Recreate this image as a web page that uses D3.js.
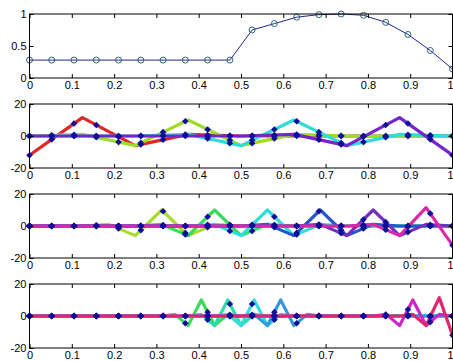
<!DOCTYPE html>
<html>
<head>
<meta charset="utf-8">
<script src="https://cdn.jsdelivr.net/npm/d3@7"></script>
<style>
  body { margin: 0; background: #fff; }
  svg { display: block; }
  text { font-family: "Liberation Sans", Arial, sans-serif; font-size: 11px; fill: #000; }
</style>
</head>
<body>
<div id="chart"></div>
<script>
// sample grid (20 points) used for the circles / dots
const xs = [0, 0.0526, 0.1053, 0.1579, 0.2105, 0.2632, 0.3158, 0.3684, 0.4211, 0.4737,
            0.5263, 0.5789, 0.6316, 0.6842, 0.7368, 0.7895, 0.8421, 0.8947, 0.9474, 1];

const xTicks = [0, 0.1, 0.2, 0.3, 0.4, 0.5, 0.6, 0.7, 0.8, 0.9, 1];
const xTickLabels = ["0", "0.1", "0.2", "0.3", "0.4", "0.5", "0.6", "0.7", "0.8", "0.9", "1"];
const yTicksTop = [0, 0.5, 1];
const yTickLabelsTop = ["0", "0.5", "1"];
const yTicksLow = [-20, 0, 20];
const yTickLabelsLow = ["-20", "0", "20"];

// top panel: the function itself
const topVals = [0.28, 0.28, 0.28, 0.28, 0.28, 0.28, 0.28, 0.28, 0.28, 0.28,
                 0.75, 0.85, 0.95, 0.99, 1.0, 0.98, 0.87, 0.68, 0.43, 0.14];

// panel 2: wavelets, lines as [x, y] pairs
const lines2 = [
  [[0, -12], [0.125, 11.5], [0.25, -6], [0.375, 1], [0.5, 0], [1, 0]],
  [[0, 0], [0.125, 1], [0.25, -6], [0.375, 10], [0.5, -6], [0.625, 1], [0.75, 0], [1, 0]],
  [[0, 0], [0.25, 0], [0.375, 1], [0.5, -6], [0.625, 10], [0.75, -6], [0.875, 1], [1, 0]],
  [[0, 0], [0.5, 0], [0.625, 1], [0.75, -6], [0.875, 11.5], [1, -12]]
];
const colors2 = ["#e02626", "#9edc2a", "#2edcdc", "#7426c8"];
const dots2 = [
  [-12, -2.1, 7.8, 6.9, -0.5, -5.3, -2.3, 0.6, 0.6, 0.2, 0, 0, 0, 0, 0, 0, 0, 0, 0, 0],
  [0, 0.4, 0.8, -0.8, -3.8, -4.3, 2.4, 9.2, 4.1, -2.6, -4.5, -1.6, 0.9, 0.5, 0.1, 0, 0, 0, 0, 0],
  [0, 0, 0, 0, 0, 0.1, 0.5, 0.9, -1.6, -4.5, -2.6, 4.1, 9.2, 2.4, -4.3, -3.8, -0.8, 0.8, 0.4, 0],
  [0, 0, 0, 0, 0, 0, 0, 0, 0, 0, 0.2, 0.6, 0.6, -2.3, -5.3, -0.5, 6.9, 7.8, -2.1, -12]
];

// panel 3
const lines3 = [
  [[0, 0], [0.125, 0], [0.1875, 1], [0.25, -6], [0.3125, 10], [0.375, -6], [0.4375, 1], [0.5, 0], [1, 0]],
  [[0, 0], [0.25, 0], [0.3125, 1], [0.375, -6], [0.4375, 10], [0.5, -6], [0.5625, 1], [0.625, 0], [1, 0]],
  [[0, 0], [0.375, 0], [0.4375, 1], [0.5, -6], [0.5625, 10], [0.625, -6], [0.6875, 1], [0.75, 0], [1, 0]],
  [[0, 0], [0.5, 0], [0.5625, 1], [0.625, -6], [0.6875, 10], [0.75, -6], [0.8125, 1], [0.875, 0], [1, 0]],
  [[0, 0], [0.625, 0], [0.6875, 1], [0.75, -6], [0.8125, 10], [0.875, -6], [0.9375, 1], [1, 0]],
  [[0, 0], [0.75, 0], [0.8125, 1], [0.875, -6], [0.9375, 11.5], [1, -12]]
];
const colors3 = ["#a6dc2c", "#34dc58", "#30dcdc", "#2456cc", "#7430bc", "#dc26a8"];
const dots3 = [
  [0, 0, 0, 0.5, -1.6, -2.6, 9.2, -4.3, -0.8, 0.4, 0, 0, 0, 0, 0, 0, 0, 0, 0, 0],
  [0, 0, 0, 0, 0, 0.2, 0.6, -5.3, 5.8, 0.7, -3.1, 0.7, 0, 0, 0, 0, 0, 0, 0, 0],
  [0, 0, 0, 0, 0, 0, 0, 0, 0.7, -3.1, 0.7, 5.8, -5.3, 0.6, 0.2, 0, 0, 0, 0, 0],
  [0, 0, 0, 0, 0, 0, 0, 0, 0, 0, 0.4, -0.8, -4.3, 9.2, -2.6, -1.6, 0.5, 0, 0, 0],
  [0, 0, 0, 0, 0, 0, 0, 0, 0, 0, 0, 0, 0.1, 0.9, -4.5, 4.1, 2.4, -3.8, 0.8, 0],
  [0, 0, 0, 0, 0, 0, 0, 0, 0, 0, 0, 0, 0, 0, 0, 0.6, -2.3, -0.5, 7.8, -12]
];

// panel 4
const lines4 = [
  [[0, 0], [0.3125, 0], [0.34375, 1], [0.375, -6], [0.40625, 10], [0.4375, -6], [0.46875, 1], [0.5, 0], [1, 0]],
  [[0, 0], [0.375, 0], [0.40625, 1], [0.4375, -6], [0.46875, 10], [0.5, -6], [0.53125, 1], [0.5625, 0], [1, 0]],
  [[0, 0], [0.4375, 0], [0.46875, 1], [0.5, -6], [0.53125, 10], [0.5625, -6], [0.59375, 1], [0.625, 0], [1, 0]],
  [[0, 0], [0.5, 0], [0.53125, 1], [0.5625, -6], [0.59375, 10], [0.625, -6], [0.65625, 1], [0.6875, 0], [1, 0]],
  [[0, 0], [0.8125, 0], [0.84375, 1], [0.875, -6], [0.90625, 10], [0.9375, -6], [0.96875, 1], [1, 0]],
  [[0, 0], [0.875, 0], [0.90625, 1], [0.9375, -6], [0.96875, 11.5], [1, -12]]
];
const colors4 = ["#36dc5a", "#2cdcac", "#36dcdc", "#3498dc", "#cc26c4", "#e0266c"];
const dots4 = [
  [0, 0, 0, 0, 0, 0, 0.1, -4.5, 2.4, 0.8, 0, 0, 0, 0, 0, 0, 0, 0, 0, 0],
  [0, 0, 0, 0, 0, 0, 0, 0, -2.3, 7.5, -0.1, 0, 0, 0, 0, 0, 0, 0, 0, 0],
  [0, 0, 0, 0, 0, 0, 0, 0, 0, -0.1, 7.5, -2.3, 0, 0, 0, 0, 0, 0, 0, 0],
  [0, 0, 0, 0, 0, 0, 0, 0, 0, 0, 0.8, 2.4, -4.5, 0.1, 0, 0, 0, 0, 0, 0],
  [0, 0, 0, 0, 0, 0, 0, 0, 0, 0, 0, 0, 0, 0, 0, 0, 0.9, 4.1, -3.8, 0],
  [0, 0, 0, 0, 0, 0, 0, 0, 0, 0, 0, 0, 0, 0, 0, 0, 0, 0.6, -0.5, -12]
];

const width = 453, height = 361;
const left = 29.5, right = 452.5;
const panelTops = [14, 104, 194, 284];
const panelH = 64;

const svg = d3.select("#chart").append("svg")
  .attr("width", width)
  .attr("height", height);

const x = d3.scaleLinear().domain([0, 1]).range([left, right]);

function drawFrame(g, y, yTicks, yLabels) {
  const top = y.range()[1], bottom = y.range()[0];
  const bot = g.append("g").attr("transform", "translate(0," + bottom + ")")
    .call(d3.axisBottom(x).tickValues(xTicks).tickSize(-4).tickPadding(3)
      .tickFormat((d, i) => xTickLabels[i]));
  const tp = g.append("g").attr("transform", "translate(0," + top + ")")
    .call(d3.axisTop(x).tickValues(xTicks).tickSize(-4).tickFormat(""));
  const lf = g.append("g").attr("transform", "translate(" + left + ",0)")
    .call(d3.axisLeft(y).tickValues(yTicks).tickSize(-4).tickPadding(3)
      .tickFormat((d, i) => yLabels[i]));
  const rt = g.append("g").attr("transform", "translate(" + right + ",0)")
    .call(d3.axisRight(y).tickValues(yTicks).tickSize(-4).tickFormat(""));
  [bot, tp, lf, rt].forEach(a => {
    a.select(".domain").remove();
    a.selectAll("line").attr("stroke", "#000");
    a.selectAll("text").attr("font-family", null).attr("font-size", null).attr("fill", "#000");
  });
  // last x label sits on the window edge: keep it inside
  bot.selectAll(".tick:last-of-type text").attr("text-anchor", "end").attr("x", 0.5);
  g.append("rect")
    .attr("x", left).attr("y", top)
    .attr("width", right - left).attr("height", bottom - top)
    .attr("fill", "none").attr("stroke", "#000").attr("stroke-width", 1);
}

// panel 1
{
  const y = d3.scaleLinear().domain([0, 1]).range([panelTops[0] + panelH, panelTops[0]]);
  const g = svg.append("g");
  const line = d3.line().x((d, i) => x(xs[i])).y(d => y(d));
  g.append("path").datum(topVals)
    .attr("d", line)
    .attr("fill", "none")
    .attr("stroke", "#24248e")
    .attr("stroke-width", 1);
  g.selectAll("circle").data(topVals).enter().append("circle")
    .attr("cx", (d, i) => x(xs[i]))
    .attr("cy", d => y(d))
    .attr("r", 3)
    .attr("fill", "none")
    .attr("stroke", "#2e6470")
    .attr("stroke-width", 1);
  drawFrame(g, y, yTicksTop, yTickLabelsTop);
}

// panels 2-4
const panels = [
  {lines: lines2, colors: colors2, dots: dots2},
  {lines: lines3, colors: colors3, dots: dots3},
  {lines: lines4, colors: colors4, dots: dots4}
];

panels.forEach((p, pi) => {
  const top = panelTops[pi + 1];
  const y = d3.scaleLinear().domain([-20, 20]).range([top + panelH, top]);
  const g = svg.append("g");
  const line = d3.line().x(d => x(d[0])).y(d => y(d[1]));

  g.selectAll("path.wave").data(p.lines).enter().append("path")
    .attr("class", "wave")
    .attr("d", line)
    .attr("fill", "none")
    .attr("stroke", (d, i) => p.colors[i])
    .attr("stroke-width", 3.2)
    .attr("stroke-linejoin", "round");

  const pts = [];
  p.dots.forEach(series => series.forEach((v, i) => pts.push([xs[i], v])));
  g.selectAll("path.dot").data(pts).enter().append("path")
    .attr("class", "dot")
    .attr("d", d3.symbol(d3.symbolDiamond2, 28))
    .attr("transform", d => "translate(" + x(d[0]) + "," + y(d[1]) + ")")
    .attr("fill", "#0e0e98");

  drawFrame(g, y, yTicksLow, yTickLabelsLow);
});
</script>
</body>
</html>
